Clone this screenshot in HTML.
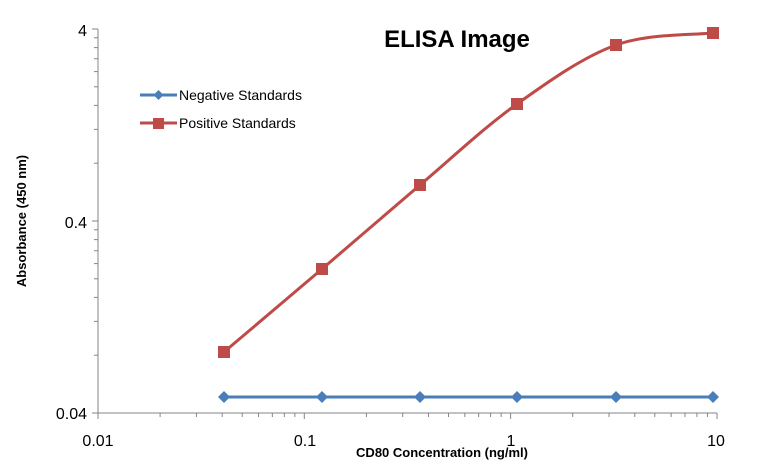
<!DOCTYPE html>
<html><head><meta charset="utf-8"><style>
html,body{margin:0;padding:0;background:#fff}
svg{display:block;font-family:"Liberation Sans",Calibri,sans-serif}
</style></head><body>
<svg id="s" width="773" height="462" viewBox="0 0 773 462" xmlns="http://www.w3.org/2000/svg">
<rect width="773" height="462" fill="#fff"/>
<g id="ax" stroke="#868686" stroke-width="1"></g>
<text x="457" y="47" font-size="24" font-weight="bold" text-anchor="middle" fill="#000">ELISA Image</text>
<text x="87" y="36" font-size="16" text-anchor="end">4</text>
<text x="87" y="228" font-size="16" text-anchor="end">0.4</text>
<text x="87" y="419" font-size="16" text-anchor="end">0.04</text>
<text x="98" y="446" font-size="16" text-anchor="middle">0.01</text>
<text x="305" y="446" font-size="16" text-anchor="middle">0.1</text>
<text x="511" y="446" font-size="16" text-anchor="middle">1</text>
<text x="716" y="446" font-size="16" text-anchor="middle">10</text>
<text x="442" y="457" font-size="13" font-weight="bold" text-anchor="middle">CD80 Concentration  (ng/ml)</text>
<text transform="translate(26,221) rotate(-90)" font-size="13" font-weight="bold" text-anchor="middle">Absorbance (450 nm)</text>
<g id="ser"></g>
<line x1="140" y1="95" x2="177" y2="95" stroke="#4a7ebb" stroke-width="3"/>
<path d="M158.5 90 L163.5 95 L158.5 100 L153.5 95Z" fill="#4a7ebb"/>
<text x="179" y="100" font-size="14">Negative Standards</text>
<line x1="140" y1="123" x2="177" y2="123" stroke="#be4b48" stroke-width="3"/>
<rect x="153" y="118" width="11" height="11" fill="#be4b48"/>
<text x="179" y="128" font-size="14">Positive Standards</text>
</svg>
<script>
var NS="http://www.w3.org/2000/svg",ax=document.getElementById('ax'),ser=document.getElementById('ser');
function L(x1,y1,x2,y2,p){var l=document.createElementNS(NS,'line');l.setAttribute('x1',x1);l.setAttribute('y1',y1);l.setAttribute('x2',x2);l.setAttribute('y2',y2);(p||ax).appendChild(l);}
function X(v){return 98+Math.log10(v/0.01)*206.3;}
function Y(v){return 29+(Math.log10(4)-Math.log10(v))*192;}
L(98,29,98,413);L(98,413,717,413);
for(var d=0.04;d<4;d*=10){for(var k=1;k<=9;k++){var y=Y(d*k);if(y<29-0.5)break;L(k==1?92:94,y,98,y);}}
L(92,29,98,29);
for(var d=0.01;d<10;d*=10){for(var k=1;k<=9;k++){var x=X(d*k);L(x,413,x,k==1?419:417);}}
L(717,413,717,419);
var xs=[224,322,420,517,616,713],ry=[352,269,185,104,45,33];
var pts=xs.map(function(x,i){return [x,ry[i]];});
var d="M"+pts[0];
for(var i=0;i<pts.length-1;i++){var p0=pts[Math.max(i-1,0)],p1=pts[i],p2=pts[i+1],p3=pts[Math.min(i+2,pts.length-1)];
d+=" C"+(p1[0]+(p2[0]-p0[0])/6)+","+(p1[1]+(p2[1]-p0[1])/6)+" "+(p2[0]-(p3[0]-p1[0])/6)+","+(p2[1]-(p3[1]-p1[1])/6)+" "+p2[0]+","+p2[1];}
var pa=document.createElementNS(NS,'path');pa.setAttribute('d',d);pa.setAttribute('fill','none');pa.setAttribute('stroke','#be4b48');pa.setAttribute('stroke-width','3');ser.appendChild(pa);
var bl=document.createElementNS(NS,'line');bl.setAttribute('x1',224);bl.setAttribute('y1',397);bl.setAttribute('x2',713);bl.setAttribute('y2',397);bl.setAttribute('stroke','#4a7ebb');bl.setAttribute('stroke-width','3');ser.appendChild(bl);
xs.forEach(function(x,i){
var r=document.createElementNS(NS,'rect');r.setAttribute('x',x-6);r.setAttribute('y',ry[i]-6);r.setAttribute('width',12);r.setAttribute('height',12);r.setAttribute('fill','#be4b48');ser.appendChild(r);
var q=document.createElementNS(NS,'path');q.setAttribute('d','M'+x+' 391 L'+(x+6)+' 397 L'+x+' 403 L'+(x-6)+' 397Z');q.setAttribute('fill','#4a7ebb');ser.appendChild(q);});
</script>
</body></html>
